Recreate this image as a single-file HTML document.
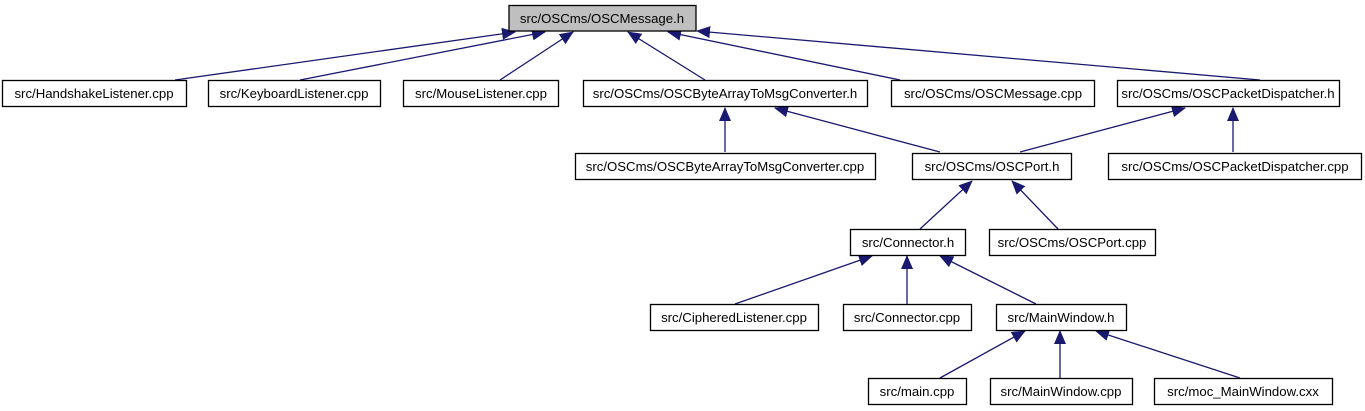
<!DOCTYPE html>
<html><head><meta charset="utf-8"><style>
body{margin:0;background:#fff}
svg{display:block}
text{font-family:"Liberation Sans",Arial,sans-serif;font-size:13.2px;fill:#000;text-anchor:middle}
rect{fill:#fff;stroke:#000;stroke-width:1.3}
line{stroke:#191970;stroke-width:1.3}
</style></head><body>
<svg width="1365" height="411" viewBox="0 0 1365 411">
<defs><marker id="a" markerWidth="14" markerHeight="12" refX="13" refY="6" orient="auto" markerUnits="userSpaceOnUse"><path d="M0,0 L14,6 L0,12 Z" fill="#191970"/></marker></defs>
<g marker-end="url(#a)">
<line x1="175" y1="80" x2="515" y2="32"/>
<line x1="300" y1="80" x2="545" y2="32"/>
<line x1="500" y1="80" x2="573" y2="32"/>
<line x1="705" y1="80" x2="628" y2="32"/>
<line x1="900" y1="80" x2="668" y2="32"/>
<line x1="1260" y1="80" x2="697" y2="31"/>
<line x1="725" y1="152" x2="725" y2="108"/>
<line x1="940" y1="152" x2="775" y2="108"/>
<line x1="1020" y1="152" x2="1185" y2="108"/>
<line x1="1233" y1="152" x2="1233" y2="108"/>
<line x1="920" y1="229" x2="972" y2="181"/>
<line x1="1058" y1="229" x2="1012" y2="181"/>
<line x1="735" y1="304" x2="872" y2="256"/>
<line x1="907" y1="304" x2="907" y2="256"/>
<line x1="1036" y1="304" x2="940" y2="256"/>
<line x1="940" y1="378" x2="1025" y2="331"/>
<line x1="1060" y1="378" x2="1060" y2="331"/>
<line x1="1240" y1="378" x2="1096" y2="331"/>
</g>
<rect x="509" y="5.5" width="187" height="25.5" style="fill:#bfbfbf"/><text x="602" y="23">src/OSCms/OSCMessage.h</text>
<rect x="2.5" y="80.5" width="184" height="26"/><text x="94" y="98">src/HandshakeListener.cpp</text>
<rect x="208.5" y="80.5" width="172" height="26"/><text x="294" y="98">src/KeyboardListener.cpp</text>
<rect x="403.5" y="80.5" width="155" height="26"/><text x="481" y="98">src/MouseListener.cpp</text>
<rect x="583.5" y="80.5" width="284" height="26"/><text x="725" y="98">src/OSCms/OSCByteArrayToMsgConverter.h</text>
<rect x="891.5" y="80.5" width="203" height="26"/><text x="993" y="98">src/OSCms/OSCMessage.cpp</text>
<rect x="1117.5" y="80.5" width="222" height="26"/><text x="1228" y="98">src/OSCms/OSCPacketDispatcher.h</text>
<rect x="575.5" y="153.5" width="300" height="26"/><text x="725" y="171">src/OSCms/OSCByteArrayToMsgConverter.cpp</text>
<rect x="912.5" y="153.5" width="159" height="26"/><text x="992" y="171">src/OSCms/OSCPort.h</text>
<rect x="1108.5" y="153.5" width="253" height="26"/><text x="1235" y="171">src/OSCms/OSCPacketDispatcher.cpp</text>
<rect x="850.5" y="229.5" width="115" height="26"/><text x="908" y="247">src/Connector.h</text>
<rect x="989.5" y="229.5" width="166" height="26"/><text x="1072" y="247">src/OSCms/OSCPort.cpp</text>
<rect x="650.5" y="304.5" width="168" height="26"/><text x="734" y="322">src/CipheredListener.cpp</text>
<rect x="843.5" y="304.5" width="128" height="26"/><text x="907" y="322">src/Connector.cpp</text>
<rect x="996.5" y="304.5" width="130" height="26"/><text x="1061" y="322">src/MainWindow.h</text>
<rect x="868.5" y="378.5" width="98" height="26"/><text x="917" y="396">src/main.cpp</text>
<rect x="990.5" y="378.5" width="142" height="26"/><text x="1061" y="396">src/MainWindow.cpp</text>
<rect x="1154.5" y="378.5" width="178" height="26"/><text x="1243" y="396">src/moc_MainWindow.cxx</text>
</svg>
</body></html>
